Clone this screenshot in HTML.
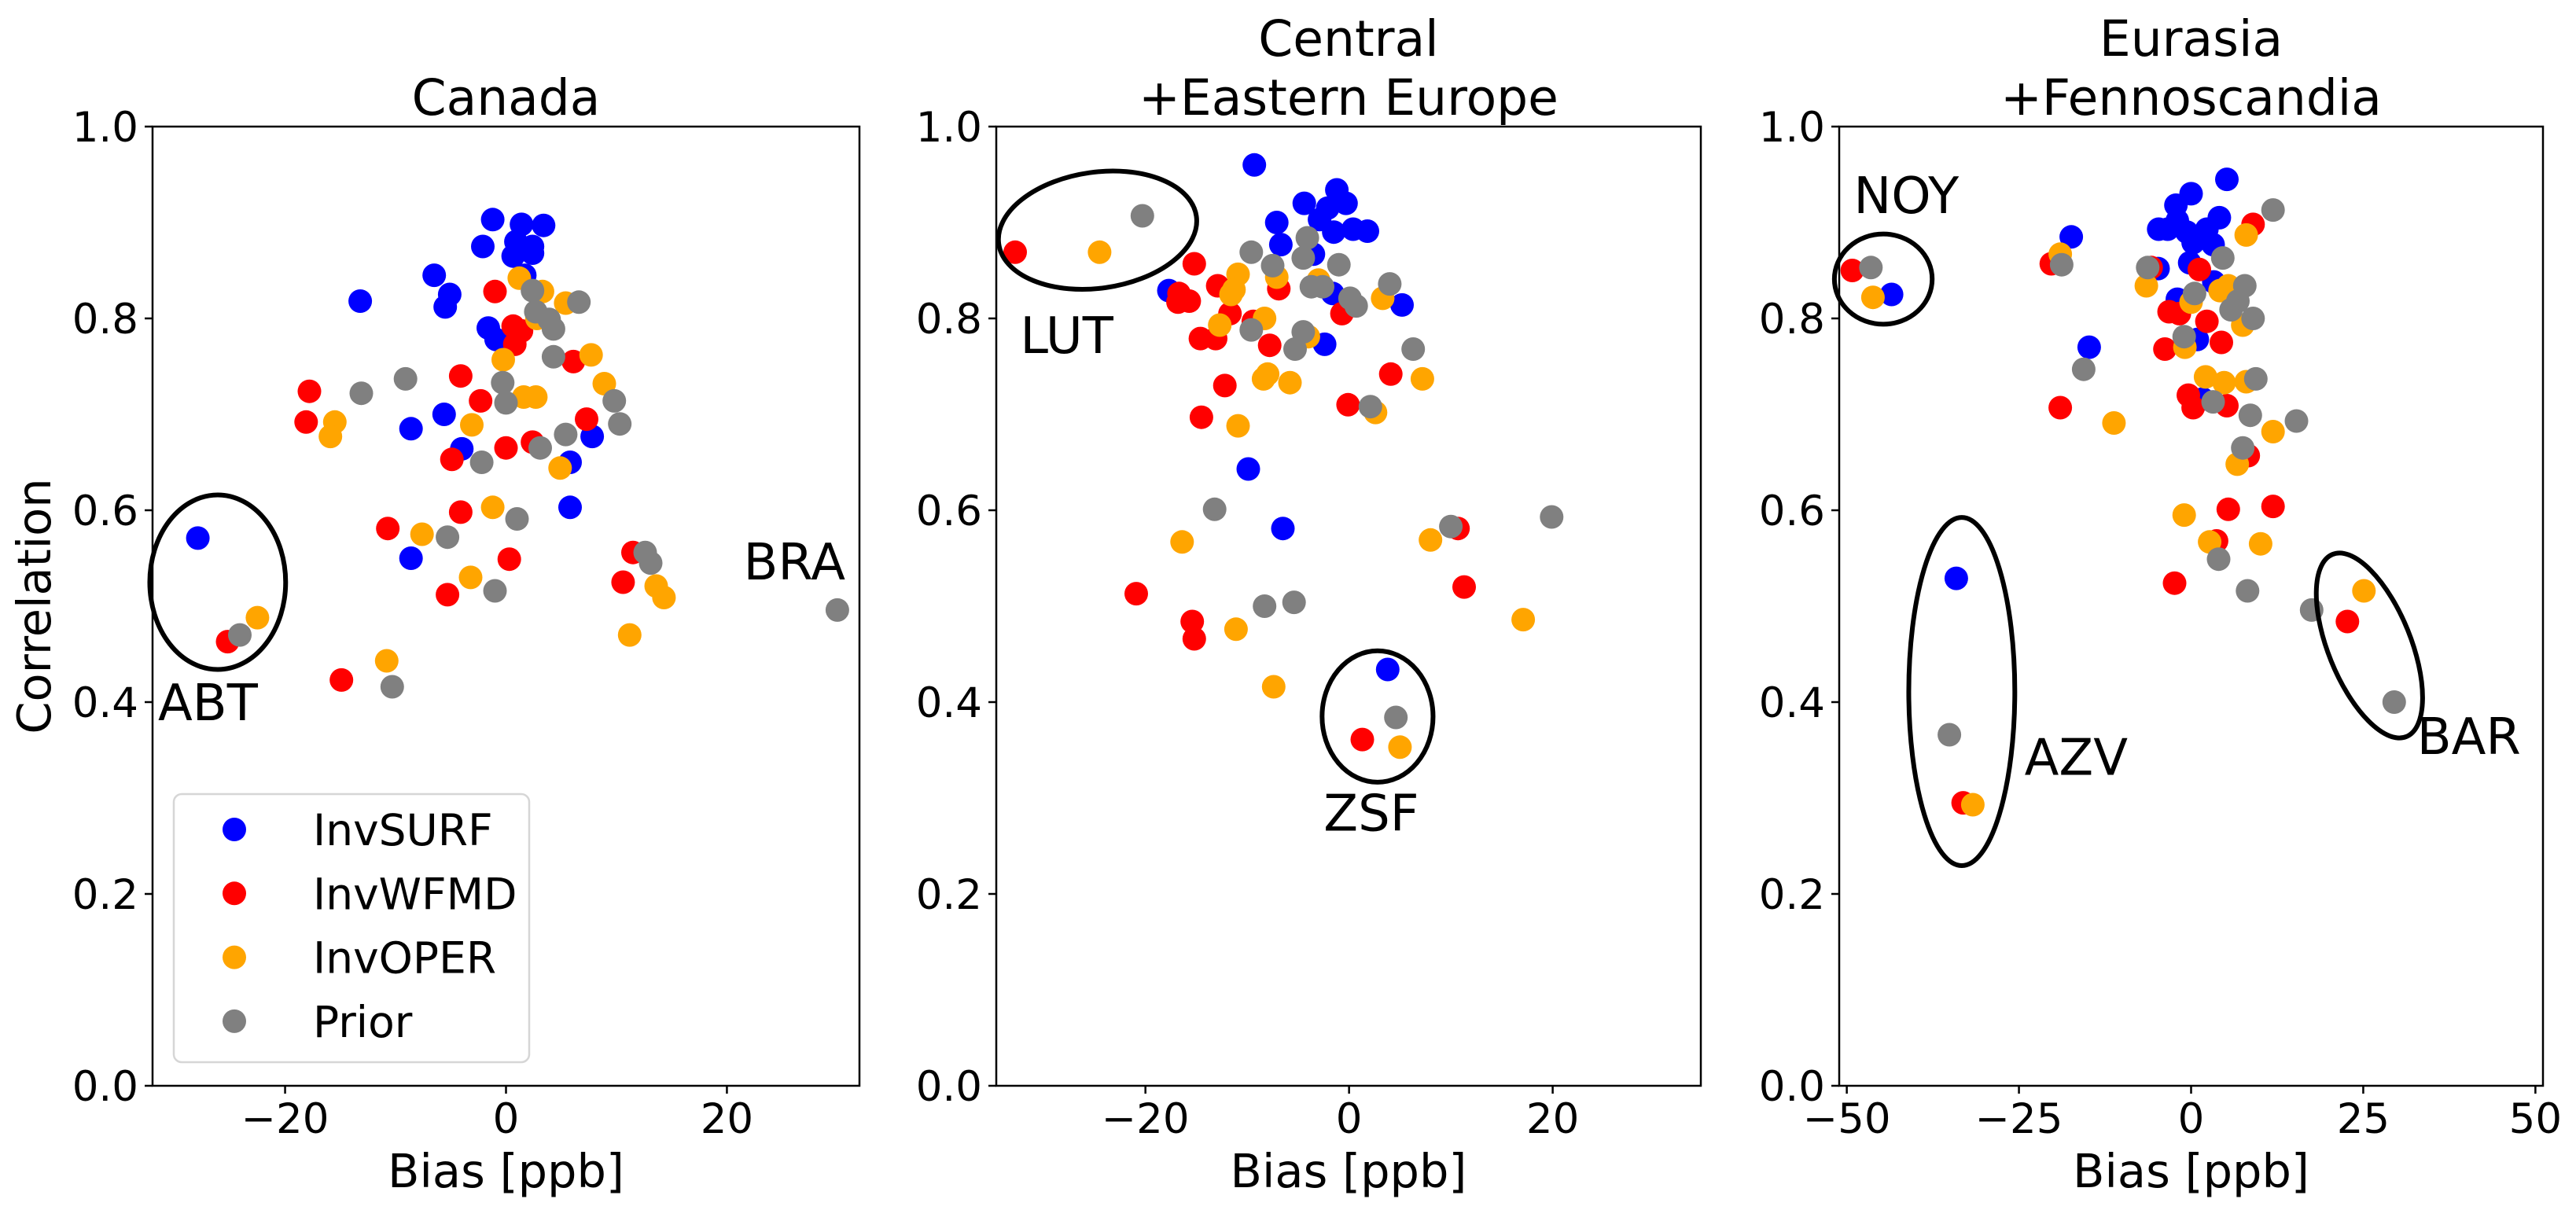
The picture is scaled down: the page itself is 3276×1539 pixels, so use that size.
<!DOCTYPE html>
<html><head><meta charset="utf-8"><style>
html,body{margin:0;padding:0;background:#fff;}
svg{display:block;font-family:"DejaVu Sans","Liberation Sans",sans-serif;}
</style></head><body>
<svg id="fig" width="3276" height="1539" viewBox="0 0 3276 1539" xmlns="http://www.w3.org/2000/svg"></svg>
<script>
// ---- data ----
const seriesNames = ["InvSURF","InvWFMD","InvOPER","Prior"];
const seriesColors = ["#0000ff","#ff0000","#ffa500","#808080"];
const panelTitles = [["Canada"],["Central","+Eastern Europe"],["Eurasia","+Fennoscandia"]];
const xTicks = [[-20,0,20],[-20,0,20],[-50,-25,0,25,50]];
const yTicks = [0,0.2,0.4,0.6,0.8,1.0];

const canadaSurfX=[-1.2,1.4,3.4,-2.1,0.9,2.4,0.65,2.4,1.7,-6.5,-5.1,-5.5,-13.2,-1.6,-0.9,-8.6,-5.6,-4,5.8,7.8,5.8,-27.9,-8.6];
const canadaSurfY=[0.903,0.898,0.897,0.875,0.88,0.875,0.865,0.868,0.845,0.845,0.825,0.812,0.818,0.79,0.778,0.685,0.70,0.664,0.65,0.677,0.603,0.571,0.55];
const canadaWfmdX=[-1,0.65,1.4,0.8,-4.1,-17.8,-2.3,-18.1,6.1,7.3,2.4,0,-4.9,-4.1,-10.7,0.3,-5.3,11.5,10.6,-25.2,-14.9];
const canadaWfmdY=[0.828,0.792,0.787,0.773,0.74,0.724,0.714,0.692,0.755,0.695,0.671,0.665,0.653,0.598,0.581,0.549,0.512,0.556,0.525,0.463,0.423];
const canadaOperX=[1.2,3.3,5.4,2.8,-0.25,7.7,8.9,1.6,2.7,-3.1,-15.5,-15.9,4.9,-1.2,-7.6,-3.2,13.6,14.3,-22.5,11.2,-10.8];
const canadaOperY=[0.842,0.828,0.816,0.80,0.757,0.762,0.732,0.718,0.718,0.689,0.692,0.677,0.644,0.603,0.575,0.53,0.521,0.509,0.488,0.47,0.443];
const canadaPriorX=[2.4,6.6,2.7,3.9,4.3,4.3,-0.3,-9.1,-13.1,0,9.8,10.3,5.4,3.1,-2.2,1,-5.3,-1,12.6,13.1,30,-24.1,-10.3];
const canadaPriorY=[0.829,0.817,0.807,0.799,0.789,0.76,0.733,0.737,0.722,0.712,0.714,0.69,0.679,0.665,0.65,0.591,0.572,0.516,0.556,0.545,0.496,0.47,0.416];

const ceeSurfX=[-9.3,-4.4,-1.2,-0.3,-2.1,-2.9,-1.5,0.4,1.8,-7.1,-6.7,-3.5,-17.7,-1.6,5.2,-2.4,-9.9,-6.5,3.8];
const ceeSurfY=[0.96,0.92,0.934,0.92,0.915,0.903,0.89,0.893,0.891,0.9,0.877,0.867,0.829,0.826,0.814,0.773,0.643,0.581,0.434];
const ceeWfmdX=[-32.8,-15.2,-12.9,-16.7,-15.7,-16.8,-11.7,-9.4,-6.9,-14.6,-13.1,-7.8,-0.7,-12.2,4.1,-0.1,-14.5,10.7,11.3,-20.9,-15.4,-15.2,1.3];
const ceeWfmdY=[0.869,0.857,0.834,0.826,0.818,0.817,0.805,0.797,0.831,0.779,0.779,0.772,0.805,0.73,0.742,0.71,0.697,0.581,0.52,0.513,0.484,0.466,0.361];
const ceeOperX=[-24.5,-10.9,-7.1,-11.3,-11.6,-3,3.3,-8.3,-12.7,-4,-8.4,-8,-5.8,7.2,-10.9,2.6,-16.4,8,-11.1,17.1,-7.4,5];
const ceeOperY=[0.869,0.846,0.843,0.83,0.825,0.84,0.821,0.80,0.793,0.781,0.737,0.742,0.733,0.737,0.688,0.702,0.567,0.569,0.476,0.486,0.416,0.353];
const ceePriorX=[-20.3,-9.6,-4.1,-4.5,-7.5,-1,4,-3.7,-2.6,0.1,0.7,-9.6,-4.5,-5.3,6.3,2.1,-13.2,10,19.9,-8.3,-5.4,4.6];
const ceePriorY=[0.907,0.869,0.884,0.863,0.855,0.856,0.836,0.833,0.833,0.821,0.813,0.788,0.786,0.768,0.768,0.708,0.601,0.583,0.593,0.5,0.504,0.384];

const eurSurfX=[5.2,0,-2.2,4.1,-2,-4.7,-3.4,-0.6,2.3,0.3,3.2,-17.4,-4.8,-0.2,3.3,-2,0.9,-14.8,1.7,-43.5,-34.1];
const eurSurfY=[0.945,0.93,0.918,0.905,0.902,0.893,0.893,0.89,0.893,0.879,0.877,0.885,0.852,0.858,0.838,0.82,0.778,0.77,0.716,0.825,0.529];
const eurWfmdX=[9,-5.8,1.2,-20.3,-3.2,-1.7,2.3,4.4,-3.8,-0.4,0.3,5.2,-19,8.3,5.4,11.9,3.7,-2.4,22.7,-49.2,-33.1];
const eurWfmdY=[0.898,0.853,0.851,0.857,0.807,0.805,0.797,0.775,0.768,0.72,0.707,0.709,0.707,0.657,0.601,0.604,0.568,0.524,0.484,0.85,0.295];
const eurOperX=[8,-19,-6.5,5.4,4.2,0,7.5,-0.9,2.1,4.8,8,-11.2,11.9,6.7,-1,2.7,10.1,25.1,-46.2,-31.7];
const eurOperY=[0.887,0.867,0.834,0.834,0.829,0.817,0.793,0.77,0.739,0.733,0.734,0.691,0.682,0.648,0.595,0.567,0.565,0.516,0.822,0.293];
const eurPriorX=[11.9,4.6,-6.3,-18.8,0.5,7.8,6.8,5.8,9,-1,9.4,-15.6,3.2,8.6,15.3,7.5,4,8.2,17.5,-46.5,-35.1,29.5];
const eurPriorY=[0.913,0.863,0.853,0.856,0.826,0.834,0.818,0.809,0.8,0.781,0.737,0.747,0.713,0.699,0.693,0.665,0.549,0.516,0.496,0.853,0.366,0.4];

const panelXs=[[canadaSurfX,canadaWfmdX,canadaOperX,canadaPriorX],[ceeSurfX,ceeWfmdX,ceeOperX,ceePriorX],[eurSurfX,eurWfmdX,eurOperX,eurPriorX]];
const panelYs=[[canadaSurfY,canadaWfmdY,canadaOperY,canadaPriorY],[ceeSurfY,ceeWfmdY,ceeOperY,ceePriorY],[eurSurfY,eurWfmdY,eurOperY,eurPriorY]];

const siteLabels=[["ABT","BRA"],["LUT","ZSF"],["NOY","AZV","BAR"]];
const ellCX=[[-26.1,null],[-24.7,2.8],[-44.7,-33.3,25.9]];
const ellCY=[[0.525,null],[0.892,0.385],[0.841,0.411,0.459]];
const ellW=[[12.3,0],[19.6,10.9],[14.2,15.4,12.0]];
const ellH=[[0.182,0],[0.121,0.137],[0.094,0.363,0.205]];
const ellRot=[[0,0],[-8,0],[0,0,-22]];
const labX=[[-31.5,21.5],[-32.3,-2.5],[-49,-24.2,32.8]];
const labY=[[0.381,0.528],[0.764,0.266],[0.91,0.324,0.346]];

// ---- layout ----
const axesBox=[{l:194,r:1093,xmin:-32,xmax:32},{l:1267,r:2163,xmin:-34.65,xmax:34.55},{l:2339,r:3234,xmin:-51.1,xmax:51.1}];
const TOP=161,BOT=1381;
const NS="http://www.w3.org/2000/svg";
const svg=document.getElementById('fig');
function mk(tag,attrs,parent){const e=document.createElementNS(NS,tag);for(const k in attrs)e.setAttribute(k,attrs[k]);(parent||svg).appendChild(e);return e;}
function yPix(v){return BOT-(v)*(BOT-TOP);}

axesBox.forEach((ax,p)=>{
  const g=mk('g',{});
  
  
  const xPix=v=>ax.l+(v-ax.xmin)/(ax.xmax-ax.xmin)*(ax.r-ax.l);
  for(let s=0;s<4;s++){
    const xs=panelXs[p][s],ys=panelYs[p][s];
    for(let i=0;i<xs.length;i++){
      const c=mk('circle',{cx:xPix(xs[i]).toFixed(1),cy:yPix(ys[i]).toFixed(1),r:15,fill:seriesColors[s]},g);
      
      
    }
  }
  siteLabels[p].forEach((lab,k)=>{
    if(ellCX[p][k]!==null){
      const cx=xPix(ellCX[p][k]),cy=yPix(ellCY[p][k]);
      const rx=Math.abs(xPix(ellW[p][k]/2)-xPix(0)),ry=ellH[p][k]/2*(BOT-TOP);
      const e=mk('ellipse',{cx:cx,cy:cy,rx:rx,ry:ry,fill:'none',stroke:'#000','stroke-width':6,transform:`rotate(${ellRot[p][k]} ${cx} ${cy})`},g);
      
      
    }
    const t=mk('text',{x:xPix(labX[p][k]),y:yPix(labY[p][k]),'font-size':64,fill:'#000'},g);
    t.textContent=lab;
    
    
  });
  const fr=mk('rect',{x:ax.l,y:TOP,width:ax.r-ax.l,height:BOT-TOP,fill:'none',stroke:'#000','stroke-width':2.5},g);
  
  
  yTicks.forEach(v=>{
    const y=yPix(v);
    mk('line',{x1:ax.l-10,x2:ax.l,y1:y,y2:y,stroke:'#000','stroke-width':2.5},g);
    const t=mk('text',{x:ax.l-18,y:y+19,'font-size':53,'text-anchor':'end'},g);
    t.textContent=v.toFixed(1);
    
    
  });
  xTicks[p].forEach(v=>{
    const x=xPix(v);
    mk('line',{x1:x,x2:x,y1:BOT,y2:BOT+10,stroke:'#000','stroke-width':2.5},g);
    const t=mk('text',{x:x,y:BOT+60,'font-size':53,'text-anchor':'middle'},g);
    t.textContent=(v<0?'\u2212':'')+Math.abs(v);
    
    
  });
  const cx=(ax.l+ax.r)/2;
  const xl=mk('text',{x:cx,y:1510,'font-size':59,'text-anchor':'middle'},g);
  xl.textContent='Bias [ppb]';
  
  
  const lines=panelTitles[p];
  lines.forEach((ln,i)=>{
    const t=mk('text',{x:cx,y:146-(lines.length-1-i)*75,'font-size':63,'text-anchor':'middle'},g);
    t.textContent=ln;
    
    
  });
});
const yl=mk('text',{x:0,y:0,'font-size':59,'text-anchor':'middle',transform:'translate(64,771) rotate(-90)'});
yl.textContent='Correlation';


const lg=mk('g',{});


mk('rect',{x:221,y:1010,width:452,height:341,rx:10,fill:'#fff','fill-opacity':0.8,stroke:'#d6d6d6','stroke-width':2.5},lg);
seriesNames.forEach((n,i)=>{
  const y=1055+i*81.3;
  const c=mk('circle',{cx:298,cy:y,r:15,fill:seriesColors[i]},lg);
  
  
  const t=mk('text',{x:398,y:y+20,'font-size':55},lg);
  t.textContent=n;
  
  
});
</script>
</body></html>
